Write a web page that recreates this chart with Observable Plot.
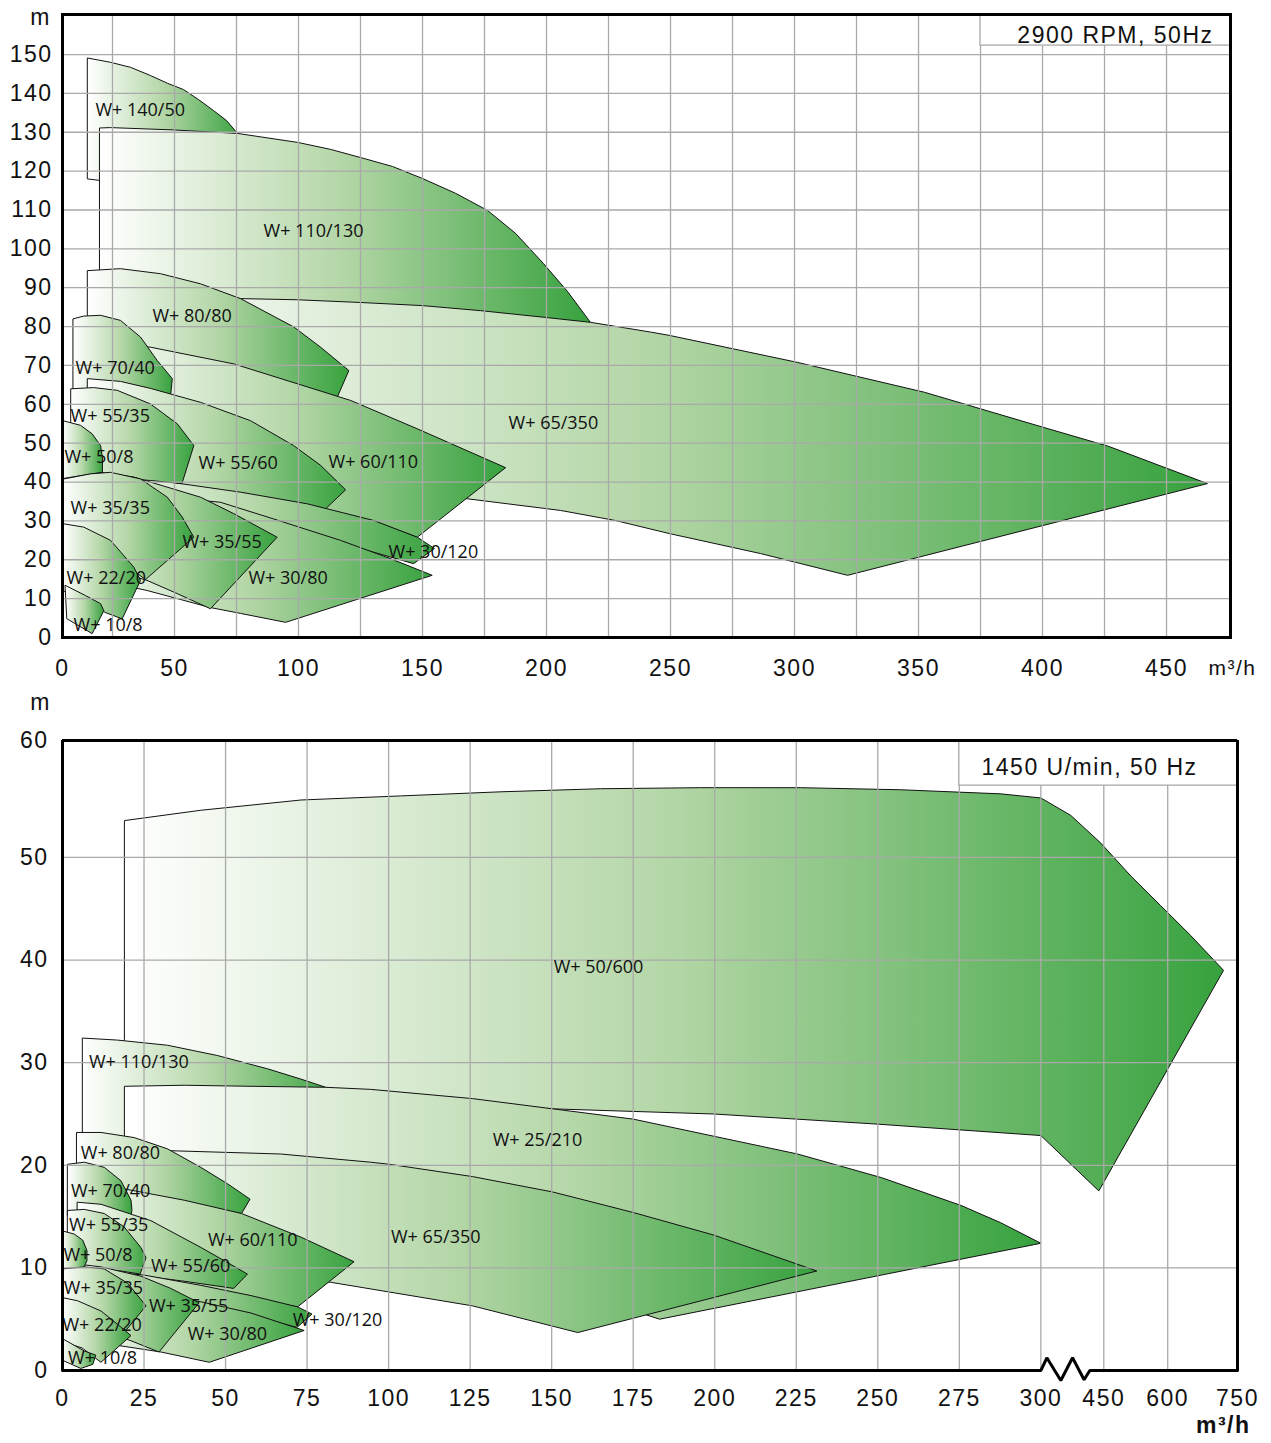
<!DOCTYPE html>
<html><head><meta charset="utf-8">
<script src="https://cdn.jsdelivr.net/npm/d3@7"></script>
<script src="https://cdn.jsdelivr.net/npm/@observablehq/plot@0.6"></script>
<style>
body{margin:0;background:#fff;}
#chart svg{display:block;}
svg text{letter-spacing:1.5px;}
svg g[font-family="Open Sans"] text{letter-spacing:0;}
</style></head><body><div id="chart"></div>
<script>
// ---------- 2900 RPM (top) ----------
const T_140_50 = [[15.0,149.1],[24.2,148.0],[32.3,146.7],[40.3,144.6],[47.2,142.6],[53.6,141.0],[59.7,138.4],[65.7,135.6],[71.0,133.0],[75.4,129.7],[77.4,127.9],[19.9,117.6],[15.0,118.0]];
const T_110_130 = [[19.9,131.1],[24.2,131.2],[49.6,130.6],[75.4,129.7],[99.6,127.4],[112.9,125.6],[125.0,123.5],[137.9,121.2],[150.0,118.1],[163.3,114.3],[176.2,109.9],[187.5,104.0],[198.8,96.2],[208.5,89.0],[217.7,81.1],[215.7,79.5],[19.9,86.7]];
const T_65_350 = [[20.2,87.7],[76.6,87.2],[99.5,86.9],[125.0,86.2],[149.9,85.4],[173.4,84.1],[198.9,82.4],[217.7,81.1],[241.9,78.6],[249.8,77.7],[301.1,70.8],[352.4,63.1],[400.2,54.1],[426.6,49.2],[466.5,39.6],[321.4,16.0],[286.3,21.6],[249.8,26.7],[227.8,30.1],[205.6,32.7],[168.0,35.7],[100.8,41.7],[20.2,50.7]];
const T_80_80 = [[15.0,94.4],[28.2,94.9],[44.4,93.6],[60.5,91.0],[76.6,87.2],[98.1,79.9],[108.9,74.7],[120.3,68.7],[115.6,61.8],[73.8,69.5],[40.3,73.9],[15.0,75.1]];
const T_60_110 = [[15.0,76.4],[40.3,74.7],[73.9,70.4],[121.0,61.0],[147.9,53.7],[183.5,43.7],[147.9,25.8],[130.4,29.9],[103.5,34.0],[76.6,37.1],[52.4,39.1],[15.0,42.5]];
const T_70_40 = [[9.2,82.0],[13.4,82.7],[20.2,82.9],[28.2,81.6],[36.3,77.3],[43.0,71.3],[49.1,66.6],[48.4,62.0],[28.2,64.1],[9.2,63.0]];
const T_55_60 = [[15.0,66.6],[28.2,65.9],[40.3,64.1],[60.5,60.5],[80.6,55.8],[98.0,49.4],[108.9,44.3],[119.0,38.0],[110.9,33.1],[80.6,36.3],[52.4,39.2],[15.0,42.7]];
const T_30_120 = [[15.0,43.0],[52.4,39.6],[76.6,37.4],[103.5,34.4],[130.4,30.1],[147.9,25.8],[154.8,22.9],[146.4,19.0],[116.9,24.4],[90.0,30.1],[68.5,34.2],[40.3,36.0],[15.0,38.3]];
const T_30_80 = [[6.7,39.1],[40.3,36.5],[68.5,34.8],[90.0,30.5],[116.9,25.0],[137.1,20.3],[153.9,16.0],[94.8,3.9],[76.6,6.2],[64.5,7.7],[38.9,12.1],[20.2,14.7],[6.7,16.7]];
const T_55_35 = [[8.3,64.0],[17.4,64.3],[26.9,63.6],[40.3,60.1],[51.1,55.0],[57.8,49.4],[53.0,39.6],[40.3,40.4],[20.2,41.4],[8.3,41.4]];
const T_35_55 = [[7.7,43.0],[20.2,42.5],[33.5,41.3],[60.5,36.1],[73.8,31.9],[91.4,25.8],[64.5,7.4],[51.1,11.3],[38.9,14.7],[20.2,18.3],[7.7,19.8]];
const T_50_8 = [[4.9,55.8],[12.1,54.6],[16.8,52.4],[20.2,49.4],[21.0,46.1],[20.9,42.5],[4.9,40.9]];
const T_35_35 = [[4.9,40.8],[5.4,40.8],[16.1,42.1],[24.2,42.5],[36.3,40.8],[47.1,36.1],[53.1,31.0],[57.8,25.8],[38.3,14.9],[28.2,19.8],[16.1,25.5],[4.9,28.0]];
const T_22_20 = [[4.9,29.3],[13.4,28.4],[24.2,25.0],[33.6,18.1],[36.3,14.7],[28.9,4.8],[22.2,6.4],[12.1,10.0],[4.9,12.1]];
const T_10_8 = [[6.0,13.4],[14.1,10.8],[20.2,8.7],[21.5,6.9],[16.8,1.0],[6.7,4.8]];

const topLabels = [
  ["W+ 140/50", 18.1, 135.6], ["W+ 110/130", 85.9, 104.5], ["W+ 80/80", 41.1, 82.6],
  ["W+ 70/40", 10.1, 69.2], ["W+ 65/350", 184.7, 55.1], ["W+ 55/35", 8.1, 56.9],
  ["W+ 50/8", 5.6, 46.3], ["W+ 55/60", 59.7, 44.8], ["W+ 60/110", 112.1, 45.0],
  ["W+ 35/35", 8.1, 33.2], ["W+ 35/55", 53.2, 24.4], ["W+ 30/120", 136.3, 21.9],
  ["W+ 22/20", 6.5, 15.2], ["W+ 30/80", 79.8, 15.2], ["W+ 10/8", 9.3, 3.1]
];
const topXTicks = [4.84, 50, 100, 150, 200, 250, 300, 350, 400, 450];
const topYTicks = [0, 10, 20, 30, 40, 50, 60, 70, 80, 90, 100, 110, 120, 130, 140, 150];
const topGridX = [25, 50, 75, 100, 125, 150, 175, 200, 225, 250, 275, 300, 325, 350, 375, 400, 425, 450];
const topGridY = [10, 20, 30, 40, 50, 60, 70, 80, 90, 100, 110, 120, 130, 140, 150];

// ---------- 1450 U/min (bottom) ----------
const B_50_600 = [[19.1,53.6],[42.4,54.6],[73.1,55.6],[103.7,56.0],[134.4,56.4],[165.0,56.7],[195.7,56.8],[226.4,56.8],[257.0,56.6],[287.7,56.2],[300,55.8],[371.4,54.1],[442.9,51.4],[513.3,48.2],[583.6,45.3],[649.3,42.4],[720,39.0],[438.1,17.5],[300,22.9],[250.4,24.0],[199.7,25.0],[150.3,25.5],[81.1,26.5],[19.1,26.5]];
const B_110_130 = [[6.2,32.4],[16.9,32.2],[32.2,31.7],[47.5,30.7],[62.9,29.4],[73.1,28.4],[80.7,27.6],[85.4,26.8],[19.1,22.4],[6.2,22.4]];
const B_25_210 = [[19.1,27.7],[37.3,27.8],[57.8,27.7],[80.7,27.6],[94.5,27.4],[125.7,26.5],[175.0,24.5],[225.4,21.1],[251.1,18.8],[275.4,16.1],[287.7,14.4],[300,12.4],[251.1,9.3],[183.1,5.0],[177.3,5.6],[103.7,10.9],[42.4,13.8],[19.1,15.1]];
const B_65_350 = [[11.8,21.6],[35.3,21.4],[66.9,21.1],[94.5,20.3],[100.2,20.1],[125.7,18.9],[150.3,17.4],[175.0,15.4],[199.7,13.2],[231.3,9.7],[158.0,3.7],[125.7,6.3],[82.2,8.6],[57.8,9.6],[27.1,10.7],[11.8,11.2]];
const B_80_80 = [[4.4,23.2],[11.8,23.2],[22.0,22.7],[32.2,21.6],[42.4,19.8],[50.6,18.2],[57.5,16.7],[54.9,15.3],[37.3,16.3],[18.9,17.4],[4.4,18.0]];
const B_60_110 = [[4.4,17.1],[18.9,17.7],[37.3,16.6],[54.9,15.3],[73.1,13.0],[89.4,10.6],[72.1,6.2],[57.8,7.0],[42.4,7.8],[25.0,8.8],[4.4,9.9]];
const B_70_40 = [[1.6,20.1],[6.7,20.3],[12.8,19.8],[17.9,18.5],[21.0,16.6],[21.3,15.6],[20.4,14.4],[1.6,15.1]];
const B_55_60 = [[4.6,16.4],[11.8,16.2],[27.1,14.6],[42.4,12.0],[49.6,10.7],[56.7,9.4],[52.5,8.0],[37.3,8.7],[25.0,9.2],[4.6,10.1]];
const B_30_120 = [[4.6,9.9],[25.0,9.3],[42.4,8.3],[57.8,7.3],[72.1,6.2],[76.5,5.5],[71.9,4.2],[57.8,5.4],[42.4,6.5],[27.1,7.4],[4.6,8.4]];
const B_30_80 = [[4.6,8.6],[27.1,7.6],[42.4,6.7],[57.8,5.6],[74.1,3.9],[45.0,0.8],[30.2,1.8],[17.9,2.4],[4.6,3.1]];
const B_55_35 = [[1.6,15.6],[6.7,15.7],[12.8,15.3],[18.9,14.0],[24.0,12.0],[25.6,11.0],[23.8,9.4],[17.9,9.7],[8.7,9.9],[1.6,9.9]];
const B_35_55 = [[1.3,10.5],[11.8,10.1],[24.0,9.2],[33.2,8.0],[41.9,6.6],[29.6,1.8],[21.0,2.9],[11.8,3.9],[1.3,4.9]];
const B_50_8 = [[0,13.6],[3.6,13.3],[6.2,12.7],[7.5,11.7],[7.5,10.7],[6.3,9.9],[0,9.9]];
const B_35_35 = [[0,9.9],[6.7,10.1],[12.8,9.9],[20.0,8.5],[25.6,6.3],[19.4,3.9],[11.8,5.1],[0,6.3]];
const B_22_20 = [[0,7.1],[4.6,6.8],[11.8,5.8],[16.9,4.5],[21.0,3.4],[11.8,0.8],[6.0,2.2],[0,2.8]];
const B_10_8 = [[0,3.1],[6.7,1.9],[10.2,1.5],[9.3,0.6],[5.6,0.2],[0,1.0]];

const bottomLabels = [
  ["W+ 50/600", 150.6, 39.3], ["W+ 110/130", 8.1, 30.0], ["W+ 25/210", 131.9, 22.4],
  ["W+ 80/80", 5.6, 21.2], ["W+ 70/40", 2.6, 17.5], ["W+ 65/350", 100.7, 13.0],
  ["W+ 55/35", 2.0, 14.2], ["W+ 60/110", 44.6, 12.7], ["W+ 50/8", 0.3, 11.2],
  ["W+ 55/60", 27.1, 10.2], ["W+ 35/35", 0.4, 8.0], ["W+ 35/55", 26.5, 6.3],
  ["W+ 30/120", 70.6, 4.9], ["W+ 22/20", 0.0, 4.4], ["W+ 30/80", 38.4, 3.5],
  ["W+ 10/8", 1.7, 1.2]
];
const bottomXTicks = [0, 25, 50, 75, 100, 125, 150, 175, 200, 225, 250, 275, 300, 450, 600, 750];
const bottomYTicks = [0, 10, 20, 30, 40, 50, 61.4];
const bottomGridX = [25, 50, 75, 100, 125, 150, 175, 200, 225, 250, 275, 300, 450, 600];
const bottomGridY = [10, 20, 30, 40, 50];
const axisBreak = [[0,0],[300,0],[314.3,1.24],[347.6,-0.97],[375.5,1.24],[403.1,-0.9],[416.7,0],[750,0]];
// broken flow axis: 0–300 linear, then compressed 300–750
const breakDomain = [0, 300, 450, 600, 750];
const breakSpan = [0, 300, 319.3, 338.9, 360.3];
const brk = d3.scaleLinear(breakDomain, breakSpan);

// ---------- build tables ----------
const topPolys = [["140/50",T_140_50],["110/130",T_110_130],["65/350",T_65_350],["80/80",T_80_80],["60/110",T_60_110],["70/40",T_70_40],["55/60",T_55_60],["30/120",T_30_120],["30/80",T_30_80],["55/35",T_55_35],["35/55",T_35_55],["50/8",T_50_8],["35/35",T_35_35],["22/20",T_22_20],["10/8",T_10_8]];
const bottomPolys = [["50/600",B_50_600],["110/130",B_110_130],["25/210",B_25_210],["65/350",B_65_350],["80/80",B_80_80],["60/110",B_60_110],["70/40",B_70_40],["55/60",B_55_60],["30/120",B_30_120],["30/80",B_30_80],["55/35",B_55_35],["35/55",B_35_55],["50/8",B_50_8],["35/35",B_35_35],["22/20",B_22_20],["10/8",B_10_8]];
const toTable = polys => polys.flatMap(([name, pts]) => pts.map(([x, y]) => ({name, x, y})));

const GRID = "#a9a9a9";
const FONT = "Liberation Sans, Arial, Helvetica, sans-serif";
const baseStyle = {fontFamily: FONT, fontSize: "23px", color: "#111", background: "#fff", overflow: "visible"};

function addGradient(svg, id) {
  const defs = document.createElementNS("http://www.w3.org/2000/svg", "defs");
  defs.innerHTML = `<linearGradient id="${id}" x1="0" x2="1" y1="0" y2="0">
    <stop offset="0" stop-color="#ffffff"/>
    <stop offset="0.5" stop-color="#b3d6a6"/>
    <stop offset="1" stop-color="#37a23e"/></linearGradient>`;
  svg.insertBefore(defs, svg.firstChild);
}

const topChart = Plot.plot({
  width: 1271, height: 690,
  marginLeft: 62, marginRight: 41, marginTop: 14, marginBottom: 53,
  style: baseStyle,
  x: {domain: [4.84, 475.8], ticks: topXTicks, tickFormat: d => d < 10 ? "0" : `${d}`, tickSize: 0, tickPadding: 22, label: null},
  y: {domain: [0, 160.3], ticks: topYTicks, tickSize: 0, tickPadding: 10, label: null},
  marks: [
    Plot.line(toTable(topPolys), {x: "x", y: "y", z: "name", curve: "linear-closed", fill: "url(#gradTop)", stroke: "#111", strokeWidth: 1}),
    Plot.ruleX(topGridX, {stroke: GRID, strokeWidth: 1.3}),
    Plot.ruleY(topGridY, {stroke: GRID, strokeWidth: 1.3}),
    Plot.rect([0], {x1: 375, x2: 475.8, y1: 152.3, y2: 160.3, fill: "#fff", stroke: GRID, strokeWidth: 1.3}),
    Plot.text(topLabels, {x: d => d[1], y: d => d[2], text: d => d[0], textAnchor: "start", fontFamily: "Open Sans", fontSize: 18, fill: "#111"}),
    Plot.text(["2900 RPM, 50Hz"], {frameAnchor: "top-right", dx: -17, dy: 21, textAnchor: "end", lineAnchor: "middle", fontSize: 23, fontFamily: FONT, fill: "#111"}),
    Plot.text(["m"], {frameAnchor: "top-left", dx: -22, dy: 3, textAnchor: "middle", lineAnchor: "middle", fontSize: 23, fontFamily: FONT, fill: "#111"}),
    Plot.text(["m³/h"], {frameAnchor: "bottom-right", dx: -22, dy: 31, textAnchor: "start", lineAnchor: "middle", fontSize: 21, fontFamily: FONT, fill: "#111"}),
    Plot.frame({stroke: "#000", strokeWidth: 3})
  ]
});
addGradient(topChart, "gradTop");

const bottomChart = Plot.plot({
  width: 1271, height: 753,
  marginLeft: 62, marginRight: 34, marginTop: 50, marginBottom: 73,
  style: baseStyle,
  x: {transform: brk, domain: [0, 360.3], ticks: bottomXTicks.map(brk), tickFormat: d => `${Math.round(brk.invert(d))}`, tickSize: 0, tickPadding: 19, label: null},
  y: {domain: [0, 61.4], ticks: bottomYTicks, tickFormat: d => d > 60 ? "60" : `${d}`, tickSize: 0, tickPadding: 14, label: null},
  marks: [
    Plot.line(toTable(bottomPolys), {x: "x", y: "y", z: "name", curve: "linear-closed", fill: "url(#gradBottom)", stroke: "#111", strokeWidth: 1}),
    Plot.ruleX(bottomGridX, {stroke: GRID, strokeWidth: 1.3}),
    Plot.ruleY(bottomGridY, {stroke: GRID, strokeWidth: 1.3}),
    Plot.rect([0], {x1: 275, x2: 750, y1: 57.0, y2: 61.4, fill: "#fff", stroke: GRID, strokeWidth: 1.3}),
    Plot.text(bottomLabels, {x: d => d[1], y: d => d[2], text: d => d[0], textAnchor: "start", fontFamily: "Open Sans", fontSize: 18, fill: "#111"}),
    Plot.text(["1450 U/min, 50 Hz"], {frameAnchor: "top-right", dx: -40, dy: 27, textAnchor: "end", lineAnchor: "middle", fontSize: 23, fontFamily: FONT, fill: "#111"}),
    Plot.text(["m"], {frameAnchor: "top-left", dx: -22, dy: -38, textAnchor: "middle", lineAnchor: "middle", fontSize: 23, fontFamily: FONT, fill: "#111"}),
    Plot.text(["m³/h"], {frameAnchor: "bottom-right", dx: 13, dy: 55, textAnchor: "end", lineAnchor: "middle", fontSize: 23, fontWeight: "bold", fontFamily: FONT, fill: "#111"}),
    Plot.ruleY([61.4], {stroke: "#000", strokeWidth: 3}),
    Plot.ruleX([0], {stroke: "#000", strokeWidth: 3}),
    Plot.ruleX([750], {stroke: "#000", strokeWidth: 3}),
    Plot.line(axisBreak, {stroke: "#000", strokeWidth: 3, strokeLinejoin: "miter"})
  ]
});
addGradient(bottomChart, "gradBottom");

document.getElementById("chart").append(topChart, bottomChart);
</script></body></html>
